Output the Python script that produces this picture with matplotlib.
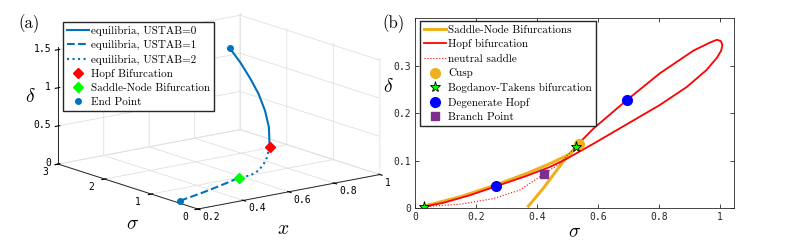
import matplotlib
matplotlib.use("Agg")
import matplotlib.pyplot as plt
from mpl_toolkits.mplot3d import proj3d

plt.rcParams['mathtext.fontset'] = 'cm'
plt.rcParams['axes.unicode_minus'] = False

# ---- panel (a): equilibrium branch in (x, sigma, delta) ----
stab0_x = [0.690, 0.708, 0.720, 0.727, 0.724, 0.711, 0.680]
stab0_s = [1.705, 1.566, 1.414, 1.273, 1.119, 0.971, 0.804]
stab0_d = [1.494, 1.323, 1.138, 0.964, 0.776, 0.594, 0.390]

stab2_x = [0.680, 0.641, 0.595, 0.552, 0.499]
stab2_s = [0.804, 0.691, 0.618, 0.590, 0.587]
stab2_d = [0.390, 0.252, 0.162, 0.127, 0.123]

stab1_x = [0.499, 0.417, 0.320, 0.222]
stab1_s = [0.587, 0.553, 0.517, 0.489]
stab1_d = [0.123, 0.082, 0.038, 0.0]

hopf_pt = (0.680, 0.804, 0.390)
sn_pt = (0.499, 0.587, 0.123)
end_x = [0.690, 0.222]
end_s = [1.705, 0.489]
end_d = [1.494, 0.0]

xticks3 = [0.2, 0.4, 0.6, 0.8, 1]
xlabels3 = ['0.2', '0.4', '0.6', '0.8', '1']
sticks3 = [0, 1, 2, 3]
slabels3 = ['0', '1', '2', '3']
dticks3 = [0, 0.5, 1, 1.5]
dlabels3 = ['0', '0.5', '1', '1.5']

# ---- panel (b): two-parameter curves in (sigma, delta) ----
sn_sig = [0.03, 0.15, 0.266, 0.366, 0.443, 0.508, 0.539, 0.497, 0.465, 0.421, 0.372]
sn_del = [0.004, 0.024, 0.049, 0.073, 0.094, 0.114, 0.135, 0.108, 0.080, 0.042, 0.004]

hopf_sig = [0.03, 0.093, 0.18, 0.266, 0.366, 0.443, 0.497, 0.585, 0.694, 0.803, 0.891,
            0.956, 0.990, 1.004, 1.008, 1.003, 0.990, 0.967, 0.913, 0.803, 0.694, 0.585, 0.527]
hopf_del = [0.003, 0.011, 0.027, 0.046, 0.068, 0.087, 0.104, 0.136, 0.177, 0.218, 0.256,
            0.292, 0.318, 0.333, 0.345, 0.353, 0.356, 0.350, 0.333, 0.285, 0.228, 0.168, 0.130]

ns_sig = [0.03, 0.148, 0.257, 0.344, 0.423, 0.475, 0.527]
ns_del = [0.003, 0.008, 0.020, 0.038, 0.072, 0.094, 0.130]

cusp_sig, cusp_del = [0.539], [0.135]
bt_sig, bt_del = [0.03, 0.527], [0.003, 0.130]
dh_sig, dh_del = [0.266, 0.694], [0.046, 0.228]
bp_sig, bp_del = [0.423], [0.072]

mblue = '#0072BD'
orange = '#EDB120'
purple = '#7E2F8E'
tickfont = dict(family='DejaVu Sans Mono', size=7)
legfont = dict(family='cmr10', size=8)

fig = plt.figure(figsize=(7.93, 2.5), dpi=100)

# ---------- (a) ----------
ax = fig.add_axes([0.1208, 0.0632, 0.3026, 0.96], projection='3d')
ax.set_proj_type('ortho')
ax.view_init(elev=14.3, azim=-127.5)
ax.set_box_aspect((1, 1, 0.525), zoom=1.4)
ax.set_xlim(0.2, 1)
ax.set_ylim(0, 3)
ax.set_zlim(0, 1.53)

for a in (ax.xaxis, ax.yaxis, ax.zaxis):
    a.set_pane_color((1, 1, 1, 0))
    a.pane.set_edgecolor('#d0d0d0')
    a._axinfo['grid']['color'] = '#e0e0e0'
    a._axinfo['grid']['linewidth'] = 0.6
    a.line.set_color('#262626')
    a.line.set_linewidth(0.7)

ax.plot(stab0_x, stab0_s, stab0_d, '-', color=mblue, lw=1.5, label='equilibria, USTAB=0')
ax.plot(stab1_x, stab1_s, stab1_d, '--', color=mblue, lw=1.5, label='equilibria, USTAB=1')
ax.plot(stab2_x, stab2_s, stab2_d, ':', color=mblue, lw=1.5, label='equilibria, USTAB=2')
ax.plot([hopf_pt[0]], [hopf_pt[1]], [hopf_pt[2]], 'D', color='r', ms=5, label='Hopf Bifurcation')
ax.plot([sn_pt[0]], [sn_pt[1]], [sn_pt[2]], 'D', color='#00FF00', ms=5, label='Saddle-Node Bifurcation')
ax.plot(end_x, end_s, end_d, 'o', color=mblue, ms=4, ls='none', label='End Point')

ax.set_xticks(xticks3)
ax.set_yticks(sticks3)
ax.set_zticks(dticks3)
ax.set_xticklabels([])
ax.set_yticklabels([])
ax.set_zticklabels([])

# tick labels placed at the projected tick positions (MATLAB-like placement)
M = ax.get_proj()


def tick_text(xv, sv, dv, s, dx, dy, ha):
    px, py, _ = proj3d.proj_transform(xv, sv, dv, M)
    ax.annotate(s, xy=(px, py), xycoords='data', xytext=(dx, dy),
                textcoords='offset pixels', ha=ha, va='center',
                annotation_clip=False, fontfamily=tickfont['family'],
                fontsize=tickfont['size'])


for v, s in zip(xticks3, xlabels3):
    tick_text(v, 0, 0, s, 5, -8, 'left')
for v, s in zip(sticks3, slabels3):
    tick_text(0.2, v, 0, s, -13, -8, 'center')
for v, s in zip(dticks3, dlabels3):
    tick_text(0.2, 3, v, s, -7, 1, 'right')

fig.text(283 / 793, 1 - 228 / 250, r'$x$', fontsize=14, ha='center', va='center')
fig.text(133 / 793, 1 - 224 / 250, r'$\sigma$', fontsize=14, ha='center', va='center')
fig.text(30 / 793, 1 - 97 / 250, r'$\delta$', fontsize=14, ha='center', va='center')

fig.legend(*ax.get_legend_handles_labels(), loc='upper left',
           bbox_to_anchor=(63 / 793, 1 - 22 / 250), prop=legfont, frameon=True,
           fancybox=False, edgecolor='#262626', framealpha=1, borderpad=0.35,
           labelspacing=0.38, handlelength=2.0, handletextpad=0.2, borderaxespad=0)
fig.text(29 / 793, 1 - 24 / 250, '(a)', family='cmr10', fontsize=12, ha='center', va='center')

# ---------- (b) ----------
bx = fig.add_axes([415 / 793, 42 / 250, 319 / 793, 190 / 250])
bx.plot(sn_sig, sn_del, '-', color=orange, lw=2.2, label='Saddle-Node Bifurcations')
bx.plot(hopf_sig, hopf_del, '-', color='r', lw=1.3, label='Hopf bifurcation')
bx.plot(ns_sig, ns_del, ':', color='r', lw=0.8, label='neutral saddle')
bx.plot(cusp_sig, cusp_del, 'o', color=orange, ms=7, ls='none', label='Cusp')
bx.plot(bt_sig, bt_del, '*', mfc='#00FF00', mec='k', mew=0.6, ms=8, ls='none',
        label='Bogdanov-Takens bifurcation')
bx.plot(dh_sig, dh_del, 'o', color='#0000FF', ms=7, ls='none', label='Degenerate Hopf')
bx.plot(bp_sig, bp_del, 's', color=purple, ms=5.5, ls='none', label='Branch Point')
bx.set_xlim(0, 1.046)
bx.set_ylim(0, 0.402)
bx.set_xticks([0, 0.2, 0.4, 0.6, 0.8, 1])
bx.set_xticklabels(['0', '0.2', '0.4', '0.6', '0.8', '1'], fontdict=tickfont)
bx.set_yticks([0, 0.1, 0.2, 0.3])
bx.set_yticklabels(['0', '0.1', '0.2', '0.3'], fontdict=tickfont)
bx.tick_params(direction='in', top=True, right=True, length=3, width=0.6, pad=3,
               colors='#262626')
for sp in bx.spines.values():
    sp.set_color('#262626')
    sp.set_linewidth(0.6)
bx.set_xlabel(r'$\sigma$', fontsize=14, labelpad=0)
bx.set_ylabel(r'$\delta$', fontsize=14, rotation=0, va='center', ha='center')
bx.yaxis.set_label_coords(-0.085, 0.637)
bx.legend(loc='upper left', bbox_to_anchor=(420 / 793, 1 - 21 / 250),
          bbox_transform=fig.transFigure, prop=legfont, frameon=True, fancybox=False,
          edgecolor='#262626', framealpha=1, borderpad=0.35, labelspacing=0.42,
          handlelength=2.0, handletextpad=0.2, borderaxespad=0)
fig.text(394 / 793, 1 - 24 / 250, '(b)', family='cmr10', fontsize=12, ha='center', va='center')

fig.savefig('out.png', dpi=100)
